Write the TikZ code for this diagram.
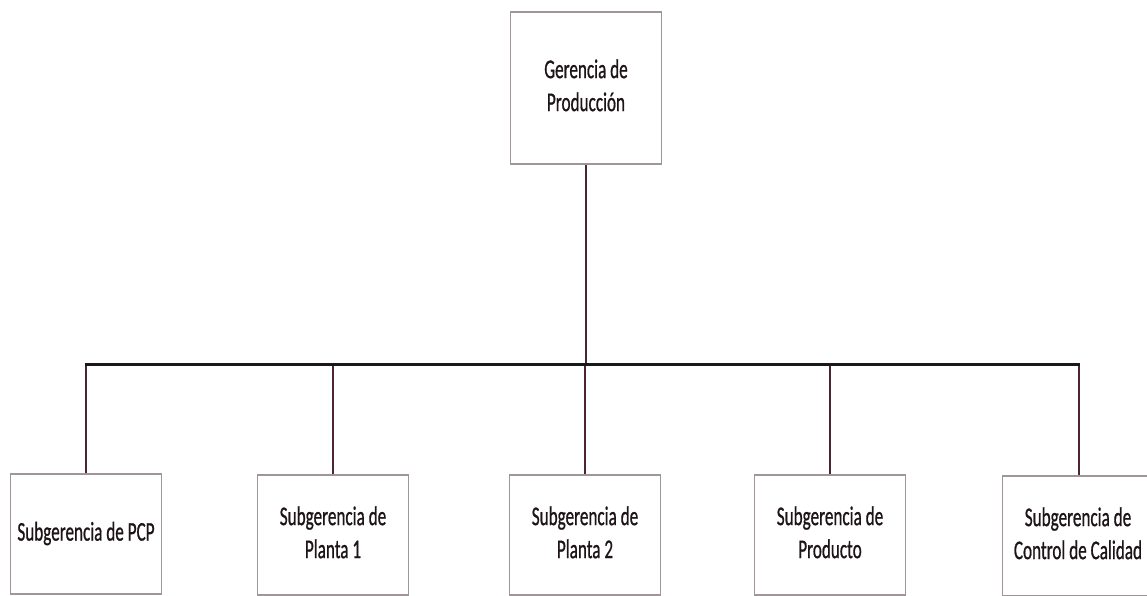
\documentclass[tikz,border=0pt]{standalone}
\usepackage{fontspec}
\usepackage{graphicx}
\setmainfont{Carlito}[AutoFakeBold=1.0]
\definecolor{boxline}{HTML}{A0969A}
\definecolor{link}{HTML}{4B2533}
\definecolor{ink}{HTML}{1E1418}
% condensed, centred multi-line label
\newcommand{\narrowlabel}[1]{\scalebox{0.635}[1]{\begin{tabular}{@{}c@{}}#1\end{tabular}}}
\begin{document}
\begin{tikzpicture}[x=1pt,y=-1pt,
  orgbox/.style={draw=boxline,line width=1.2pt,fill=white,inner sep=0pt,
    minimum width=151pt,font=\fontsize{27}{33}\selectfont\bfseries,text=ink},
  topbox/.style={orgbox,minimum height=152pt},
  subbox/.style={orgbox,minimum height=120pt},
  link/.style={draw=link,line width=2pt},
  bar/.style={draw=black!90,line width=3pt}]
\useasboundingbox[fill=white] (0,0) rectangle (1147,596);

\node[topbox] (top) at (586,88) {\narrowlabel{Gerencia de\\Producción}};

\node[subbox] (s1) at (86,534)  {\narrowlabel{Subgerencia de PCP}};
\node[subbox] (s2) at (333,535) {\narrowlabel{Subgerencia de\\Planta 1}};
\node[subbox] (s3) at (585,535) {\narrowlabel{Subgerencia de\\Planta 2}};
\node[subbox] (s4) at (830,535) {\narrowlabel{Subgerencia de\\Producto}};
\node[subbox] (s5) at (1078,536) {\narrowlabel{Subgerencia de\\Control de Calidad}};

% branch points on the horizontal bar
\coordinate (j0) at (586,364);
\coordinate (j1) at (86,364);
\coordinate (j5) at (1079,364);

\path[link] (top.south) -- (j0);
\path[link] (s1.north) -- (s1.north |- j0);
\path[link] (s2.north) -- (s2.north |- j0);
\path[link] (s3.north) -- (s3.north |- j0);
\path[link] (s4.north) -- (s4.north |- j0);
\path[link] (s5.north -| j5) -- (j5);
\path[bar] ([xshift=-1pt]j1) -- ([xshift=1pt]j5);
\end{tikzpicture}
\end{document}
